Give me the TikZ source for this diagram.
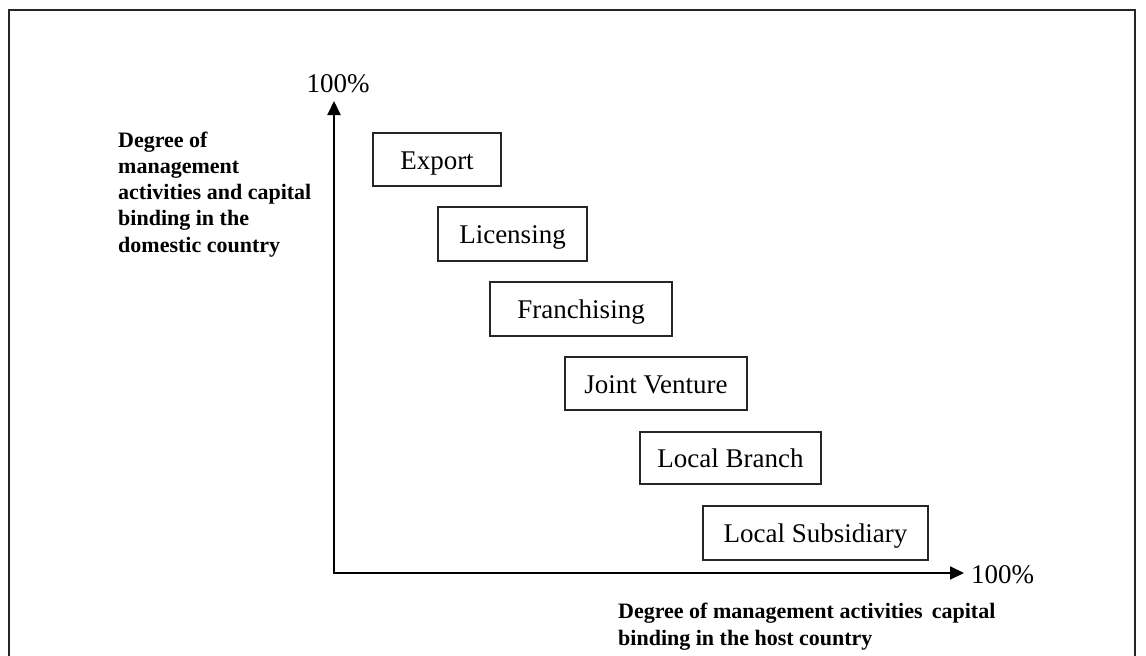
\documentclass[tikz,border=0pt]{standalone}
\usepackage{fontspec}
\setmainfont{Liberation Serif}
\usetikzlibrary{arrows.meta}
\begin{document}
\begin{tikzpicture}[x=1pt,y=-1pt,
  modebox/.style={draw=black!85,line width=1.1pt,inner sep=0pt,
    font=\fontsize{27}{30}\selectfont,text height=19pt,text depth=0pt},
  axisline/.style={line width=2pt,-{Triangle[length=14pt,width=13pt]}},
  axislabel/.style={font=\fontsize{27}{30}\selectfont,inner sep=0pt},
  axistitle/.style={font=\fontsize{22}{26.25}\selectfont\bfseries,align=left,inner sep=0pt}]
  \clip (0,0) rectangle (1146,656);
  \fill[white] (0,0) rectangle (1146,656);
  % outer frame (open at the bottom edge)
  \draw[line width=2pt,black!85] (9,10) rectangle (1135,680);

  % axes
  \coordinate (origin) at (334,573);
  \coordinate (ytip) at (334,101);
  \coordinate (xtip) at (964,573);
  \draw[axisline] (origin) -- (ytip);
  \draw[axisline] ([xshift=-1pt]origin) -- (xtip);
  \node[axislabel,anchor=base] (ymax) at (338,92) {100\%};
  \node[axislabel,anchor=base west] (xmax) at (971,583) {100\%};

  % axis titles (anchored at the baseline of their last line)
  \node[axistitle,anchor=base west] (ytitle) at (118,252)
    {Degree of\\management\\activities and capital\\binding in the\\domestic country};
  \node[axistitle,anchor=base west] (xtitle) at (618,645)
    {Degree of management activities\, capital\\binding in the host country};

  % market entry modes
  \node[modebox,minimum width=128pt,minimum height=53pt] (export) at (437,159.5) {Export};
  \node[modebox,minimum width=149pt,minimum height=54pt] (licensing) at (512.5,234) {Licensing};
  \node[modebox,minimum width=182pt,minimum height=54pt] (franchising) at (581,309) {Franchising};
  \node[modebox,minimum width=182pt,minimum height=53pt] (jv) at (656,383.5) {Joint Venture};
  \node[modebox,minimum width=181pt,minimum height=52pt] (branch) at (730.5,458) {Local Branch};
  \node[modebox,minimum width=225pt,minimum height=54pt] (subsidiary) at (815.5,533) {Local Subsidiary};
\end{tikzpicture}
\end{document}
